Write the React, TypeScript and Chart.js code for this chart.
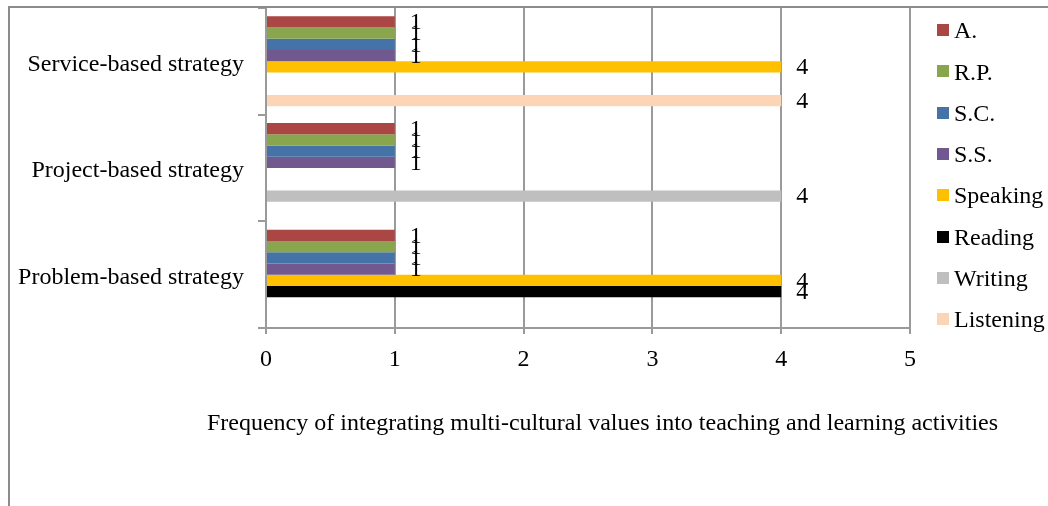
import React, { useEffect, useRef } from 'react';
import { Chart, registerables } from 'chart.js';

Chart.register(...registerables);

const categories = ['Service-based strategy', 'Project-based strategy', 'Problem-based strategy'];
const seriesNames = ['A.', 'R.P.', 'S.C.', 'S.S.', 'Speaking', 'Reading', 'Writing', 'Listening'];
const seriesColors = ['#AA4643', '#89A54E', '#4572A7', '#71588F', '#FFC000', '#000000', '#BFBFBF', '#FBD5B5'];
const aValues = [1, 1, 1];
const rpValues = [1, 1, 1];
const scValues = [1, 1, 1];
const ssValues = [1, 1, 1];
const speakingValues = [4, null, 4];
const readingValues = [null, null, 4];
const writingValues = [null, 4, null];
const listeningValues = [4, null, null];
const xMin = 0;
const xMax = 5;
const axisTitle = 'Frequency of integrating multi-cultural values into teaching and learning activities';

const FONT = "'Liberation Serif', 'Times New Roman', serif";
const GRID = '#9a9a9a';
const FRAME = '#8c8c8c';

const framePlugin = {
  id: 'frame',
  beforeDraw(chart: any) {
    const ctx = chart.ctx;
    ctx.save();
    ctx.fillStyle = '#ffffff';
    ctx.fillRect(0, 0, chart.width, chart.height);
    ctx.restore();
  },
  afterDraw(chart: any) {
    const ctx = chart.ctx;
    ctx.save();
    ctx.strokeStyle = FRAME;
    ctx.lineWidth = 2;
    ctx.beginPath();
    ctx.moveTo(9, chart.height);
    ctx.lineTo(9, 7);
    ctx.lineTo(chart.width, 7);
    ctx.stroke();
    ctx.restore();
  },
};

const legendPlugin = {
  id: 'sideLegend',
  afterDraw(chart: any) {
    const ctx = chart.ctx;
    ctx.save();
    ctx.font = `24px ${FONT}`;
    ctx.textBaseline = 'middle';
    ctx.textAlign = 'left';
    chart.data.datasets.forEach((ds: any, i: number) => {
      const y = 30 + i * 41.3;
      ctx.fillStyle = ds.backgroundColor;
      ctx.fillRect(937, Math.round(y - 6), 12, 12);
      ctx.fillStyle = '#000';
      ctx.fillText(ds.label, 954, y + 2);
    });
    ctx.restore();
  },
};

const titlePlugin = {
  id: 'axisTitle',
  afterDraw(chart: any) {
    const ctx = chart.ctx;
    ctx.save();
    ctx.font = `24px ${FONT}`;
    ctx.fillStyle = '#000';
    ctx.textBaseline = 'middle';
    ctx.textAlign = 'left';
    const target = 789;
    const natural = ctx.measureText(axisTitle).width;
    const spaces = axisTitle.split(' ').length - 1;
    if ('wordSpacing' in ctx) {
      (ctx as any).wordSpacing = `${Math.max(0, (target - natural) / spaces)}px`;
    }
    const w = ctx.measureText(axisTitle).width;
    ctx.fillText(axisTitle, 602.5 - w / 2, 424);
    ctx.restore();
  },
};

const labelPlugin = {
  id: 'barLabels',
  afterDatasetsDraw(chart: any) {
    const ctx = chart.ctx;
    ctx.save();
    ctx.font = `24px ${FONT}`;
    ctx.fillStyle = '#000';
    ctx.textAlign = 'center';
    ctx.textBaseline = 'middle';
    chart.data.datasets.forEach((ds: any, i: number) => {
      const meta = chart.getDatasetMeta(i);
      meta.data.forEach((el: any, j: number) => {
        const v = ds.data[j];
        if (v === null || v === undefined) return;
        ctx.fillText(String(v), el.x + 21, el.y + 1);
      });
    });
    ctx.restore();
  },
};

export default function App() {
  const ref = useRef<HTMLCanvasElement>(null);
  useEffect(() => {
    if (!ref.current) return;
    const values = [aValues, rpValues, scValues, ssValues, speakingValues, readingValues, writingValues, listeningValues];
    const chart = new Chart(ref.current, {
      type: 'bar',
      data: {
        labels: categories,
        datasets: seriesNames.map((name, i) => ({
          label: name,
          data: values[i],
          backgroundColor: seriesColors[i],
          borderWidth: 0,
          categoryPercentage: 0.844,
          barPercentage: 1.0,
        })),
      },
      options: {
        indexAxis: 'y',
        animation: false,
        responsive: false,
        devicePixelRatio: 1,
        layout: { padding: { top: 8, right: 138, left: 0, bottom: 0 } },
        plugins: { legend: { display: false }, tooltip: { enabled: false }, title: { display: false } },
        scales: {
          x: {
            type: 'linear',
            min: xMin,
            max: xMax,
            grid: { color: GRID, lineWidth: 2, tickLength: 6, drawTicks: true },
            border: { display: true, color: GRID, width: 2 },
            ticks: { stepSize: 1, color: '#000', font: { family: FONT, size: 24 }, padding: 11 },
            afterFit: (s: any) => { s.height = 506 - 328; s.paddingLeft = 0; s.paddingRight = 0; },
          },
          y: {
            type: 'category',
            grid: { display: true, drawOnChartArea: false, drawTicks: true, tickLength: 8, color: GRID, lineWidth: 2, offset: true },
            border: { display: true, color: GRID, width: 2 },
            ticks: { color: '#000', font: { family: FONT, size: 24 }, padding: 14, labelOffset: 3 },
            afterFit: (s: any) => { s.width = 266; s.paddingTop = 0; s.paddingBottom = 0; },
          },
        },
      } as any,
      plugins: [framePlugin, labelPlugin, legendPlugin, titlePlugin],
    });
    return () => chart.destroy();
  }, []);
  return (
    <div style={{ position: 'fixed', left: 0, top: 0, width: 1048, height: 506, background: '#fff' }}>
      <canvas ref={ref} width={1048} height={506} style={{ width: 1048, height: 506, display: 'block' }} />
    </div>
  );
}
